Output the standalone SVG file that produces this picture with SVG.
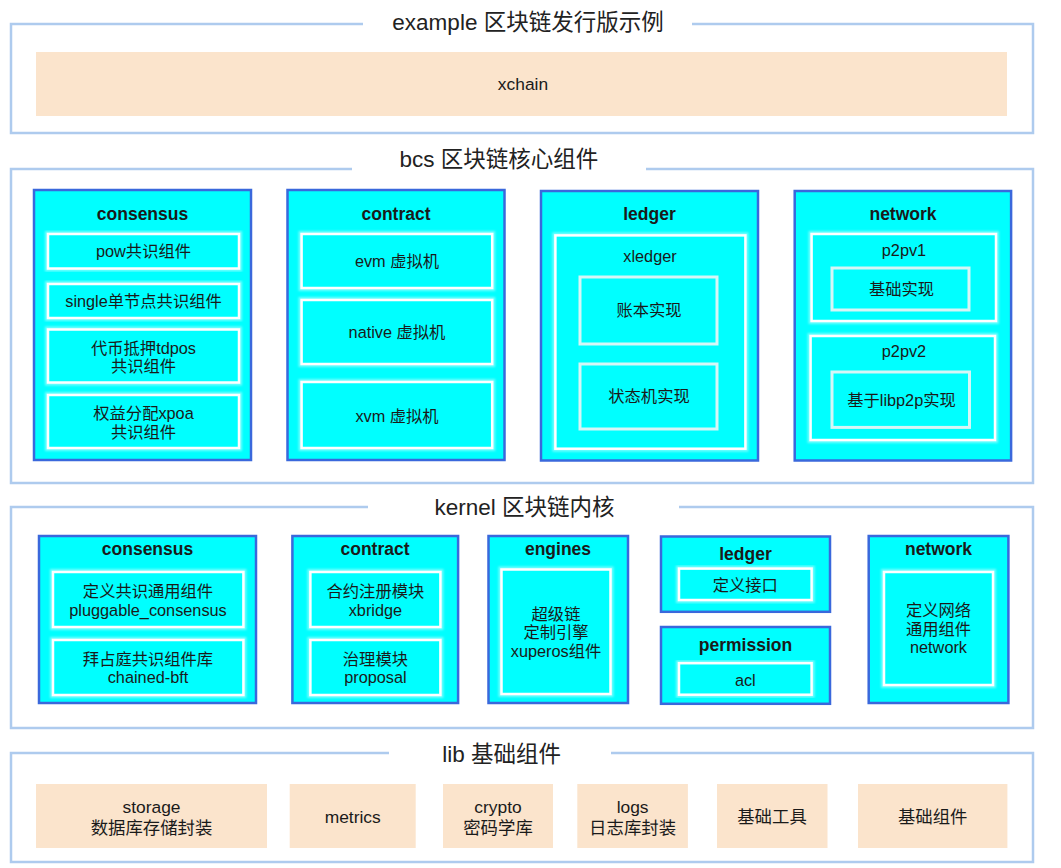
<svg xmlns="http://www.w3.org/2000/svg" width="1061" height="868" viewBox="0 0 1061 868">
<style>
text{font-family:"Liberation Sans","Noto Sans CJK SC",sans-serif;fill:#1a1a1a;text-anchor:middle;dominant-baseline:central}
.frame{fill:none;stroke:#aecbee;stroke-width:2.5}
.sec{font-size:22.5px;fill:#222}
.box{fill:#00ffff;stroke:#3a68dc;stroke-width:2.5}
.glow{fill:none;stroke:#ffffff;stroke-opacity:0.45;stroke-width:6}
.in{fill:#00ffff;stroke:#ffffff;stroke-width:2.5}
.in2{fill:#00ffff;stroke:#d6f6f6;stroke-width:3}
.t{font-size:17.5px;font-weight:bold}
.l{font-size:16.3px}
.peach{fill:#fbe4cc}
.p{font-size:17.4px}
</style>
<defs>
<filter id="g" x="-10%" y="-10%" width="120%" height="120%"><feGaussianBlur stdDeviation="1"/></filter>
</defs>

<g id="frames">
<path class="frame" d="M363,24 H11 V133 H1033 V24 H692"/>
<path class="frame" d="M352,169 H11 V483 H1033 V169 H646"/>
<path class="frame" d="M368,507 H11 V728 H1033 V507 H679"/>
<path class="frame" d="M389,753 H11 V862 H1033 V753 H611"/>
</g>

<g id="sec-example">
<text class="sec" x="528" y="22">example 区块链发行版示例</text>
<rect class="peach" x="36" y="52" width="971" height="64"/>
<text class="p" x="523" y="84">xchain</text>
</g>

<g id="sec-bcs">
<text class="sec" x="499" y="159">bcs 区块链核心组件</text>
</g>

<g id="bcs-consensus">
<rect class="box" x="34" y="190" width="217" height="270"/>
<text class="t" x="142.5" y="214">consensus</text>
<rect class="glow" x="48" y="234" width="191" height="34.5" filter="url(#g)"/>
<rect class="in" x="48" y="234" width="191" height="34.5"/>
<text class="l" x="143.5" y="251">pow共识组件</text>
<rect class="glow" x="48" y="284" width="191" height="34" filter="url(#g)"/>
<rect class="in" x="48" y="284" width="191" height="34"/>
<text class="l" x="143.5" y="301">single单节点共识组件</text>
<rect class="glow" x="48" y="329.5" width="191" height="53" filter="url(#g)"/>
<rect class="in" x="48" y="329.5" width="191" height="53"/>
<text class="l" x="143.5" y="347.5">代币抵押tdpos</text>
<text class="l" x="143.5" y="366">共识组件</text>
<rect class="glow" x="48" y="395" width="191" height="53" filter="url(#g)"/>
<rect class="in" x="48" y="395" width="191" height="53"/>
<text class="l" x="143.5" y="412.5">权益分配xpoa</text>
<text class="l" x="143.5" y="432">共识组件</text>
</g>

<g id="bcs-contract">
<rect class="box" x="287.5" y="190" width="217" height="270"/>
<text class="t" x="396" y="214">contract</text>
<rect class="glow" x="301.6" y="234" width="190.6" height="54" filter="url(#g)"/>
<rect class="in" x="301.6" y="234" width="190.6" height="54"/>
<text class="l" x="397" y="261">evm 虚拟机</text>
<rect class="glow" x="301.6" y="300" width="190.6" height="64" filter="url(#g)"/>
<rect class="in" x="301.6" y="300" width="190.6" height="64"/>
<text class="l" x="397" y="332">native 虚拟机</text>
<rect class="glow" x="301.6" y="382" width="190.6" height="66" filter="url(#g)"/>
<rect class="in" x="301.6" y="382" width="190.6" height="66"/>
<text class="l" x="397" y="415.5">xvm 虚拟机</text>
</g>

<g id="bcs-ledger">
<rect class="box" x="541" y="191" width="217" height="269.5"/>
<text class="t" x="649.5" y="214">ledger</text>
<rect class="glow" x="555.4" y="235.4" width="190" height="213.3" filter="url(#g)"/>
<rect class="in" x="555.4" y="235.4" width="190" height="213.3"/>
<text class="l" x="650" y="255.6">xledger</text>
<rect class="in2" x="580" y="277" width="137" height="67"/>
<text class="l" x="649" y="310">账本实现</text>
<rect class="in2" x="580" y="364" width="137" height="65"/>
<text class="l" x="649" y="396">状态机实现</text>
</g>

<g id="bcs-network">
<rect class="box" x="794.7" y="191" width="216.4" height="269.5"/>
<text class="t" x="903" y="214">network</text>
<rect class="glow" x="811.6" y="234" width="184.4" height="87" filter="url(#g)"/>
<rect class="in" x="811.6" y="234" width="184.4" height="87"/>
<text class="l" x="904" y="250">p2pv1</text>
<rect class="in2" x="832" y="268" width="137" height="42"/>
<text class="l" x="901.5" y="289">基础实现</text>
<rect class="glow" x="810.6" y="336" width="184.4" height="104" filter="url(#g)"/>
<rect class="in" x="810.6" y="336" width="184.4" height="104"/>
<text class="l" x="904" y="351.3">p2pv2</text>
<rect class="in2" x="832" y="372" width="137.5" height="55.4"/>
<text class="l" x="901.5" y="400">基于libp2p实现</text>
</g>

<g id="sec-kernel">
<text class="sec" x="524.5" y="507">kernel 区块链内核</text>
</g>

<g id="kernel-consensus">
<rect class="box" x="39" y="536" width="217" height="167"/>
<text class="t" x="147.5" y="549.3">consensus</text>
<rect class="glow" x="53" y="572" width="190.4" height="55" filter="url(#g)"/>
<rect class="in" x="53" y="572" width="190.4" height="55"/>
<text class="l" x="148" y="591">定义共识通用组件</text>
<text class="l" x="148" y="610">pluggable_consensus</text>
<rect class="glow" x="53" y="640" width="190.4" height="55" filter="url(#g)"/>
<rect class="in" x="53" y="640" width="190.4" height="55"/>
<text class="l" x="148" y="658.5">拜占庭共识组件库</text>
<text class="l" x="148" y="677">chained-bft</text>
</g>

<g id="kernel-contract">
<rect class="box" x="292.4" y="536" width="165.7" height="167"/>
<text class="t" x="375" y="549.3">contract</text>
<rect class="glow" x="310.4" y="572" width="130" height="55" filter="url(#g)"/>
<rect class="in" x="310.4" y="572" width="130" height="55"/>
<text class="l" x="375.4" y="591">合约注册模块</text>
<text class="l" x="375.4" y="610">xbridge</text>
<rect class="glow" x="310.4" y="640" width="130" height="55" filter="url(#g)"/>
<rect class="in" x="310.4" y="640" width="130" height="55"/>
<text class="l" x="375.4" y="658.5">治理模块</text>
<text class="l" x="375.4" y="677">proposal</text>
</g>

<g id="kernel-engines">
<rect class="box" x="488.5" y="536" width="139.5" height="167"/>
<text class="t" x="558" y="549">engines</text>
<rect class="glow" x="501.5" y="569.5" width="109" height="124.5" filter="url(#g)"/>
<rect class="in" x="501.5" y="569.5" width="109" height="124.5"/>
<text class="l" x="556" y="613.5">超级链</text>
<text class="l" x="556" y="631.5">定制引擎</text>
<text class="l" x="556" y="650.5">xuperos组件</text>
</g>

<g id="kernel-ledger">
<rect class="box" x="661" y="536.5" width="169" height="75.3"/>
<text class="t" x="745.5" y="553.7">ledger</text>
<rect class="glow" x="679" y="568.6" width="132.6" height="31.4" filter="url(#g)"/>
<rect class="in" x="679" y="568.6" width="132.6" height="31.4"/>
<text class="l" x="745.3" y="584.8">定义接口</text>
</g>

<g id="kernel-permission">
<rect class="box" x="661" y="627" width="169" height="76.8"/>
<text class="t" x="745.5" y="645">permission</text>
<rect class="glow" x="679" y="663.2" width="132.6" height="31.5" filter="url(#g)"/>
<rect class="in" x="679" y="663.2" width="132.6" height="31.5"/>
<text class="l" x="745.3" y="679.5">acl</text>
</g>

<g id="kernel-network">
<rect class="box" x="868.7" y="536" width="139.7" height="167"/>
<text class="t" x="938.5" y="548.6">network</text>
<rect class="glow" x="884" y="572" width="109" height="113" filter="url(#g)"/>
<rect class="in" x="884" y="572" width="109" height="113"/>
<text class="l" x="938.5" y="609.5">定义网络</text>
<text class="l" x="938.5" y="628.7">通用组件</text>
<text class="l" x="938.5" y="647.3">network</text>
</g>

<g id="sec-lib">
<text class="sec" x="501.7" y="754">lib 基础组件</text>
</g>

<g id="lib-storage">
<rect class="peach" x="36" y="784" width="231" height="64"/>
<text class="p" x="151.5" y="807">storage</text>
<text class="p" x="151.5" y="827.5">数据库存储封装</text>
</g>
<g id="lib-metrics">
<rect class="peach" x="289.7" y="784" width="126" height="64"/>
<text class="p" x="352.7" y="817">metrics</text>
</g>
<g id="lib-crypto">
<rect class="peach" x="443" y="784" width="110" height="64"/>
<text class="p" x="498" y="807">crypto</text>
<text class="p" x="498" y="827.5">密码学库</text>
</g>
<g id="lib-logs">
<rect class="peach" x="577.3" y="784" width="110.6" height="64"/>
<text class="p" x="632.6" y="807">logs</text>
<text class="p" x="632.6" y="827.5">日志库封装</text>
</g>
<g id="lib-tools">
<rect class="peach" x="717" y="784" width="110.5" height="64"/>
<text class="p" x="772" y="817">基础工具</text>
</g>
<g id="lib-components">
<rect class="peach" x="858" y="784" width="149.4" height="64"/>
<text class="p" x="932.7" y="817">基础组件</text>
</g>

<g id="connectors"></g>
</svg>
